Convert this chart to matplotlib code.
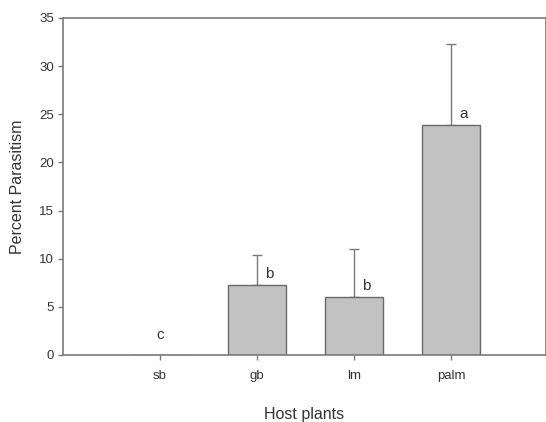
import matplotlib
matplotlib.use("Agg")
import matplotlib.pyplot as plt
import numpy as np

plt.rcParams['font.family'] = ['Liberation Sans', 'DejaVu Sans']

# data
hosts = ['sb', 'gb', 'lm', 'palm']
mean_parasitism = [0.0, 7.3, 6.0, 23.9]
upper_error = [0.0, 3.1, 5.0, 8.4]
sig_letters = ['c', 'b', 'b', 'a']
y_ticks = [0, 5, 10, 15, 20, 25, 30, 35]

line_col = '#7a7a7a'
text_col = '#333333'

fig = plt.figure(figsize=(5.46, 4.22), dpi=100)
ax = fig.add_axes([0.1154, 0.1588, 0.8846, 0.7986])

x = np.arange(1, len(hosts) + 1)
ax.bar(x, mean_parasitism, width=0.6, color='#c2c2c2',
       edgecolor='#6a6a6a', linewidth=1.0, zorder=2)

# only the upper half of the error bars, skip zero bars
has_err = np.array(upper_error) > 0
ax.errorbar(x[has_err], np.array(mean_parasitism)[has_err],
            yerr=[np.zeros(has_err.sum()), np.array(upper_error)[has_err]],
            fmt='none', ecolor=line_col, elinewidth=1.0, capsize=3.8,
            capthick=1.0, zorder=1)

for xi, m, lett in zip(x, mean_parasitism, sig_letters):
    if m == 0:
        ax.annotate(lett, (xi, m), xytext=(0, 9), textcoords='offset points',
                    ha='center', va='bottom', fontsize=11, color=text_col)
    else:
        ax.annotate(lett, (xi, m), xytext=(9, 3), textcoords='offset points',
                    ha='center', va='bottom', fontsize=11, color=text_col)

ax.set_xlim(0, 4.98)
ax.set_ylim(0, 35)
ax.set_yticks(y_ticks)
ax.set_xticks(x)
ax.set_xticklabels(hosts)

for side in ['left', 'bottom', 'top', 'right']:
    ax.spines[side].set_color(line_col)
    ax.spines[side].set_linewidth(1.2)

ax.tick_params(axis='both', colors=line_col, labelcolor=text_col,
               labelsize=9.5, length=3.5, width=1.0, direction='out')
ax.tick_params(axis='x', pad=7)
ax.tick_params(axis='y', pad=3)

ax.set_ylabel('Percent Parasitism', fontsize=11.5, color=text_col, labelpad=10)
ax.set_xlabel('Host plants', fontsize=11.5, color=text_col, labelpad=18)

fig.savefig('out.png', dpi=100)
